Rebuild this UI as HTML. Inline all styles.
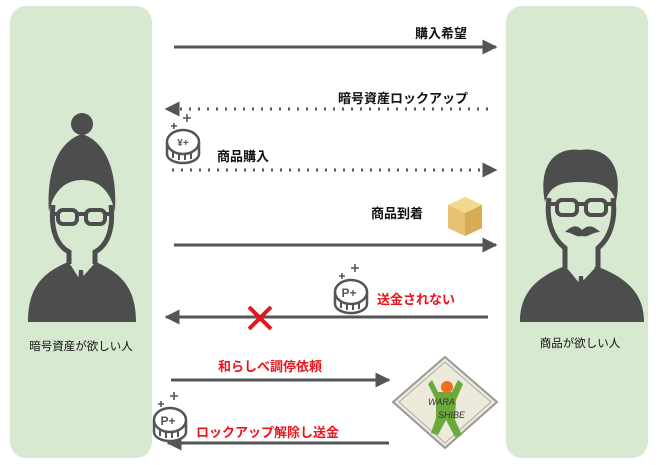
<!DOCTYPE html>
<html><head><meta charset="utf-8"><style>
html,body{margin:0;padding:0;background:#fff;}
svg{display:block;}
text{font-family:"Liberation Sans","Noto Sans CJK JP",sans-serif;}
.b{font-weight:bold;font-size:13px;fill:#111;}
.r{font-weight:bold;font-size:13px;fill:#e8141c;}
</style></head><body>
<svg width="658" height="465" viewBox="0 0 658 465" xmlns="http://www.w3.org/2000/svg">
<defs>
<marker id="ah" viewBox="0 0 10 10" refX="9" refY="5" markerWidth="5" markerHeight="5" orient="auto" markerUnits="strokeWidth"><path d="M0,0 L10,5 L0,10 z" fill="#555"/></marker>
<g id="coin">
<ellipse cx="0" cy="12" rx="16" ry="9" fill="#fff" stroke="#555" stroke-width="2.5"/>
<rect x="-16" y="0" width="32" height="12" fill="#fff"/>
<path d="M-16,0 V12 M16,0 V12" stroke="#555" stroke-width="2.5"/>
<path d="M-10,6 v10 M-4,8 v10 M2,8 v10 M8,7 v10" stroke="#555" stroke-width="2"/>
<ellipse cx="0" cy="0" rx="16" ry="12" fill="#fff" stroke="#555" stroke-width="2.5"/>
<path d="M-12,-16 h6 M-9,-19 v6 M0,-24 h8 M4,-28 v8" stroke="#555" stroke-width="1.6"/>
</g>
</defs>
<rect x="10" y="6" width="142" height="452" rx="16" fill="#d8e9d2"/>
<rect x="506" y="6" width="142" height="452" rx="16" fill="#d8e9d2"/>

<!-- left person -->
<g fill="#4d4d4d">
<circle cx="82" cy="124" r="11"/>
<path d="M49,212 C46,165 62,140 82,134 C102,140 118,165 115,212 C110,188 96,180 82,180 C68,180 54,188 49,212z"/>
<path d="M28,322 C28,285 45,272 68,262 L80,276 L96,262 C118,272 136,285 136,322 z"/>
</g>
<path d="M53,205 C50,232 58,246 69,252 L69,264 M111,205 C114,232 106,246 95,252 L95,264" fill="none" stroke="#4d4d4d" stroke-width="5"/>
<g fill="none" stroke="#4d4d4d" stroke-width="4"><rect x="58" y="210" width="19" height="14" rx="5"/><rect x="86" y="210" width="19" height="14" rx="5"/><path d="M50,214 H58 M77,214 H86 M105,214 H113"/></g>
<path d="M70,264 L80,280 L94,264 z" fill="#d8e9d2"/>
<path d="M79,270 h4 l2,24 h-8z" fill="#4d4d4d"/>
<text x="81" y="350" font-size="11.5" text-anchor="middle" fill="#111">暗号資産が欲しい人</text>

<!-- right person -->
<g fill="#4d4d4d">
<path d="M545,202 C538,165 555,147 580,150 C606,146 624,165 616,202 C612,186 600,182 580,182 C560,182 550,186 545,202z"/>
<path d="M520,322 C520,290 540,276 565,266 L580,282 L596,266 C622,276 644,290 644,322 z"/>
<path d="M565,232 C575,222 580,228 582,230 C585,228 590,222 600,232 C592,232 588,238 582,236 C576,238 572,232 565,232z"/>
</g>
<path d="M549,198 C546,220 552,238 565,248 L565,268 M613,198 C616,220 610,238 598,248 L598,268" fill="none" stroke="#4d4d4d" stroke-width="5"/>
<g fill="none" stroke="#4d4d4d" stroke-width="4"><rect x="557" y="200" width="20" height="15" rx="5"/><rect x="586" y="200" width="20" height="15" rx="5"/><path d="M548,204 H557 M577,204 H586 M606,204 H614"/></g>
<path d="M567,268 L580,284 L595,268 z" fill="#d8e9d2"/>
<path d="M579,276 h4 l2,24 h-8z" fill="#4d4d4d"/>
<text x="580" y="347" font-size="11.5" text-anchor="middle" fill="#111">商品が欲しい人</text>

<!-- arrows -->
<g stroke="#555" stroke-width="3" fill="none">
<line x1="174" y1="47" x2="496" y2="47" marker-end="url(#ah)"/>
<line x1="488" y1="109" x2="166" y2="109" stroke-dasharray="2 7" marker-end="url(#ah)"/>
<line x1="172" y1="170" x2="496" y2="170" stroke-dasharray="2 7" marker-end="url(#ah)"/>
<line x1="174" y1="245" x2="496" y2="245" marker-end="url(#ah)"/>
<line x1="488" y1="317" x2="166" y2="317" marker-end="url(#ah)"/>
<line x1="171" y1="380" x2="389" y2="380" marker-end="url(#ah)"/>
<line x1="389" y1="443" x2="168" y2="443" marker-end="url(#ah)"/>
</g>
<text x="467" y="38" text-anchor="end" class="b">購入希望</text>
<text x="468" y="103" text-anchor="end" class="b">暗号資産ロックアップ</text>
<text x="217" y="161" class="b">商品購入</text>
<text x="371" y="218" class="b">商品到着</text>
<text x="377" y="304" class="r">送金されない</text>
<text x="218" y="371" class="r">和らしべ調停依頼</text>
<text x="196" y="437" class="r">ロックアップ解除し送金</text>

<path d="M249,307 L271,329 M271,307 L249,329" stroke="#e8141c" stroke-width="4"/>

<use href="#coin" x="183" y="142"/>
<text x="183" y="146" font-size="10" font-weight="bold" text-anchor="middle" fill="#555">¥+</text>
<use href="#coin" x="351" y="292"/>
<text x="349" y="297" font-size="12" font-weight="bold" text-anchor="middle" fill="#555">P+</text>
<use href="#coin" x="170" y="420"/>
<text x="168" y="425" font-size="12" font-weight="bold" text-anchor="middle" fill="#555">P+</text>

<path d="M448,205 L465,197 L482,205 L482,228 L465,236 L448,228z" fill="#e6c272"/>
<path d="M448,205 L465,213 L482,205 L465,197z" fill="#f2d98f"/>
<path d="M465,213 L482,205 L482,228 L465,236z" fill="#d6ad55"/>

<path d="M445,357 L497,402 L445,448 L393,402z" fill="#eeeadb" stroke="#999" stroke-width="2"/>
<path d="M445,362 L491,402 L445,443 L399,402z" fill="none" stroke="#aaa" stroke-width="1"/>
<path d="M432,380 L438,392 L452,392 L458,380 L463,384 L456,400 L455,420 L462,435 L455,437 L446,420 L438,435 L431,433 L436,418 L436,400 L428,384z" fill="#6aaa3a"/>
<circle cx="447" cy="387" r="6" fill="#f07020"/>
<text x="428" y="405" font-size="9" font-style="italic" fill="#333">WARA</text>
<text x="438" y="418" font-size="9" font-style="italic" fill="#333">SHIBE</text>
</svg>
</body></html>
